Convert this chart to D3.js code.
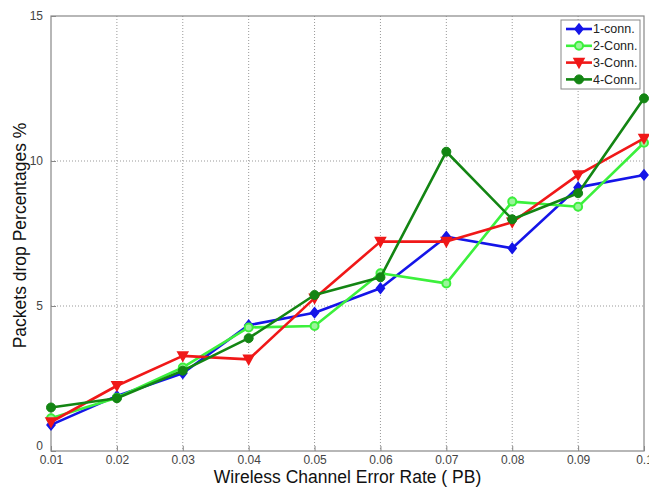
<!DOCTYPE html>
<html><head><meta charset="utf-8">
<script src="https://cdn.jsdelivr.net/npm/d3@7"></script>
<style>body{margin:0;background:#fff}svg{display:block}</style>
</head><body><svg id="c" width="649" height="487"></svg>
<script>
const xValues = [0.01,0.02,0.03,0.04,0.05,0.06,0.07,0.08,0.09,0.1];
const xTickLabels = ["0.01","0.02","0.03","0.04","0.05","0.06","0.07","0.08","0.09","0.1"];
const yTicks = [0,5,10,15];
const seriesNames = ["1-conn.","2-Conn.","3-Conn.","4-Conn."];
const conn1 = [0.9,1.9,2.68,4.34,4.77,5.61,7.39,6.99,9.09,9.52];
const conn2 = [1.13,1.84,2.88,4.26,4.31,6.13,5.78,8.6,8.42,10.63];
const conn3 = [1.0,2.25,3.28,3.16,5.27,7.22,7.22,7.89,9.52,10.78];
const conn4 = [1.5,1.82,2.77,3.89,5.38,5.99,10.32,7.99,8.89,12.16];
const seriesColors = ["#1515e8","#3cf03c","#f01818","#138513"];
const seriesMarkers = ["diamond","ring","triangle","circle"];
const allSeries = [conn1,conn2,conn3,conn4];

const svg = d3.select("#c");
const m = {l:51, r:644, t:16, b:451};
const x = d3.scaleLinear().domain([0.01,0.1]).range([m.l,m.r]);
const y = d3.scaleLinear().domain([0,15]).range([m.b,m.t]);

// grid
const g = svg.append("g");
g.selectAll(".gx").data(xValues.slice(1,-1)).enter().append("line")
 .attr("x1",d=>x(d)).attr("x2",d=>x(d)).attr("y1",m.t).attr("y2",m.b)
 .attr("stroke","#999").attr("stroke-width",1).attr("stroke-dasharray","1,2");
g.selectAll(".gy").data(yTicks.slice(1,-1)).enter().append("line")
 .attr("x1",m.l).attr("x2",m.r).attr("y1",d=>y(d)).attr("y2",d=>y(d))
 .attr("stroke","#999").attr("stroke-width",1).attr("stroke-dasharray","1,2");

// box
svg.append("rect").attr("x",m.l).attr("y",m.t).attr("width",m.r-m.l).attr("height",m.b-m.t)
 .attr("fill","none").attr("stroke","#888").attr("stroke-width",1.2);

// axes
const xAxis = d3.axisBottom(x).tickValues(xValues).tickFormat((d,i)=>xTickLabels[i]).tickSizeInner(-5).tickSizeOuter(0).tickPadding(4);
const xg = svg.append("g").attr("transform",`translate(0,${m.b})`).call(xAxis);
xg.select(".domain").remove();
xg.selectAll("line").attr("stroke","#888");
xg.selectAll("text").attr("font-family","Liberation Sans, Arial, sans-serif").attr("font-size",12).attr("fill","#444");

const yAxis = d3.axisLeft(y).tickValues(yTicks).tickSizeInner(-5).tickSizeOuter(0).tickPadding(8);
const yg = svg.append("g").attr("transform",`translate(${m.l},0)`).call(yAxis);
yg.select(".domain").remove();
yg.selectAll("line").attr("stroke","#888");
yg.selectAll("text").attr("font-family","Liberation Sans, Arial, sans-serif").attr("font-size",12).attr("fill","#444")
 .attr("dy",(d)=> d===0 ? "-0.1em" : "0.32em");

// labels
svg.append("text").attr("x",(m.l+m.r)/2).attr("y",483).attr("text-anchor","middle")
 .attr("font-family","Liberation Sans, Arial, sans-serif").attr("font-size",17.5).attr("fill","#111")
 .text("Wireless Channel Error Rate ( PB)");
svg.append("text").attr("transform",`translate(26,${(m.t+m.b)/2+2}) rotate(-90)`).attr("text-anchor","middle")
 .attr("font-family","Liberation Sans, Arial, sans-serif").attr("font-size",17.5).attr("fill","#111")
 .text("Packets drop Percentages %");

function marker(sel, type, color, cx, cy){
  if(type==="diamond"){
    sel.append("path").attr("d",`M${cx},${cy-5}L${cx+4},${cy}L${cx},${cy+5}L${cx-4},${cy}Z`)
      .attr("fill",color).attr("stroke",color).attr("stroke-width",1.5);
  } else if(type==="ring"){
    sel.append("circle").attr("cx",cx).attr("cy",cy).attr("r",4)
      .attr("fill","#9af59a").attr("stroke",color).attr("stroke-width",2);
  } else if(type==="triangle"){
    sel.append("path").attr("d",`M${cx-5},${cy-4}L${cx+5},${cy-4}L${cx},${cy+5}Z`)
      .attr("fill",color).attr("stroke",color).attr("stroke-width",1.5);
  } else {
    sel.append("circle").attr("cx",cx).attr("cy",cy).attr("r",4.5)
      .attr("fill",color).attr("stroke",color).attr("stroke-width",1);
  }
}

const line = d3.line().x((d,i)=>x(xValues[i])).y(d=>y(d));
allSeries.forEach((s,k)=>{
  const sg = svg.append("g");
  sg.append("path").datum(s).attr("d",line).attr("fill","none")
    .attr("stroke",seriesColors[k]).attr("stroke-width",2.6).attr("stroke-linejoin","round");
  s.forEach((v,i)=>marker(sg, seriesMarkers[k], seriesColors[k], x(xValues[i]), y(v)));
});

// legend
const lg = svg.append("g");
lg.append("rect").attr("x",561).attr("y",20).attr("width",79).attr("height",69)
 .attr("fill","#fff").attr("stroke","#888").attr("stroke-width",1);
seriesNames.forEach((n,k)=>{
  const ly = 29 + k*16.8;
  lg.append("line").attr("x1",566).attr("x2",592).attr("y1",ly).attr("y2",ly)
    .attr("stroke",seriesColors[k]).attr("stroke-width",2.6);
  marker(lg, seriesMarkers[k], seriesColors[k], 579, ly);
  lg.append("text").attr("x",593).attr("y",ly).attr("dy","0.35em")
    .attr("font-family","Liberation Sans, Arial, sans-serif").attr("font-size",12.5).attr("fill","#222").text(n);
});
</script></body></html>
